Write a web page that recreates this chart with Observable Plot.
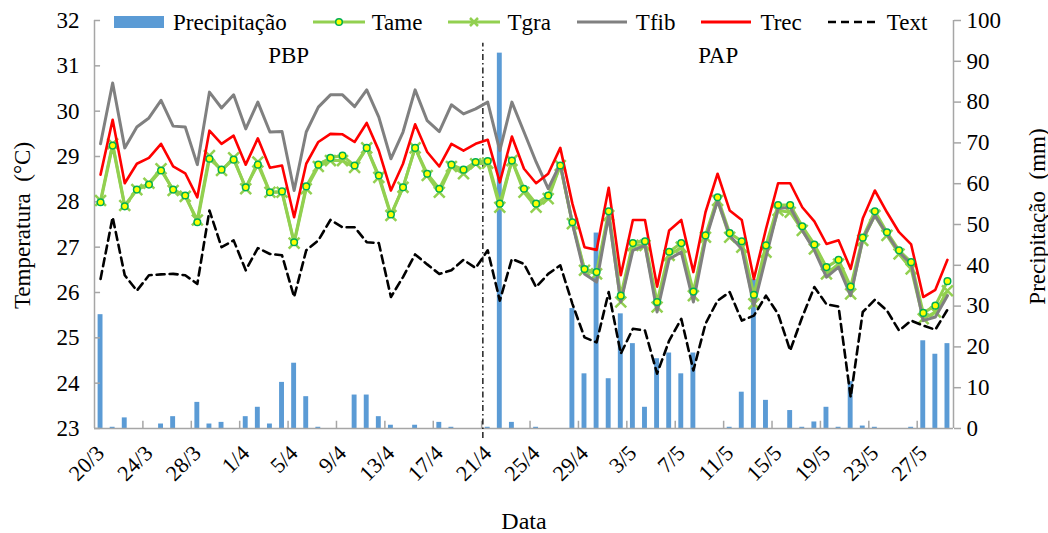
<!DOCTYPE html>
<html><head><meta charset="utf-8">
<script src="https://cdn.jsdelivr.net/npm/d3@7"></script>
<script src="https://cdn.jsdelivr.net/npm/@observablehq/plot@0.6"></script>
<style>
body{margin:0;background:#fff;}
#wrap{position:relative;width:1048px;height:533px;font-family:"Liberation Serif","Times New Roman",serif;}
#wrap svg, #wrap svg text{font-family:"Liberation Serif","Times New Roman",serif !important;}
#legend{position:absolute;left:114px;top:9px;display:flex;align-items:center;font-size:23px;color:#000;line-height:1;}
.item{display:flex;align-items:center;margin-right:26px;}
.item svg{margin-right:7px;}
</style></head><body><div id="wrap"></div>
<script>
// ---- data (daily, 20/3 .. 29/5) ----
const tickLabels = ["20/3","24/3","28/3","1/4","5/4","9/4","13/4","17/4","21/4","25/4","29/4","3/5","7/5","11/5","15/5","19/5","23/5","27/5"];
const precip = [27.9,0.3,2.6,0,0,1.1,2.9,0,6.4,1.1,1.5,0,2.9,5.2,1.1,11.3,16.0,7.8,0.3,0,0,8.2,8.2,2.9,0.8,0,0.8,0,1.5,0.3,0,0,0.3,92,1.5,0,0.3,0,0,29.4,13.4,47.9,12.2,28.1,20.8,5.2,17.1,18.5,13.4,18.5,0,0,0.3,8.9,36.5,6.9,0,4.4,0.3,1.6,5.2,0.3,11.5,0.6,0.3,0,0,0.3,21.5,18.2,20.8];
const tame = [27.99,29.24,27.90,28.27,28.38,28.69,28.27,28.14,27.55,28.95,28.71,28.93,28.32,28.82,28.21,28.23,27.11,28.34,28.82,28.97,29.02,28.80,29.19,28.58,27.72,28.32,29.19,28.62,28.29,28.82,28.71,28.88,28.90,27.96,28.91,28.29,27.96,28.14,28.80,27.55,26.52,26.45,27.79,25.93,27.09,27.13,25.79,26.90,27.09,26.02,27.26,28.10,27.31,27.13,25.95,27.04,27.93,27.93,27.46,27.06,26.56,26.72,26.13,27.21,27.79,27.33,26.93,26.67,25.55,25.71,26.25];
const tgra = [28.03,29.28,27.92,28.27,28.41,28.73,28.25,28.12,27.60,29.02,28.69,28.97,28.29,28.88,28.21,28.21,27.09,28.29,28.78,28.91,28.91,28.76,29.19,28.54,27.70,28.32,29.19,28.58,28.21,28.78,28.62,28.84,28.85,27.88,28.91,28.21,27.88,28.07,28.80,27.52,26.49,26.41,27.70,25.79,27.04,27.04,25.68,26.82,27.00,25.93,27.22,28.03,27.22,27.00,25.75,26.89,27.81,27.77,27.37,26.96,26.41,26.63,25.97,27.15,27.70,27.26,26.85,26.52,25.42,25.57,26.04];
const tfib = [29.28,30.62,29.19,29.65,29.85,30.24,29.67,29.65,28.82,30.42,30.07,30.36,29.61,30.20,29.54,29.55,28.25,29.54,30.09,30.36,30.36,30.10,30.47,29.87,28.95,29.54,30.47,29.79,29.55,30.14,29.94,30.05,30.20,29.13,30.20,29.54,28.88,28.29,28.84,27.52,26.41,26.23,27.70,25.79,26.93,27.04,25.57,26.74,26.89,25.79,27.15,28.03,27.26,26.96,25.71,26.78,27.85,27.88,27.37,26.93,26.34,26.56,25.93,27.18,27.70,27.29,26.89,26.63,25.38,25.46,25.93];
const trec = [28.60,29.81,28.41,28.84,28.97,29.28,28.78,28.63,28.10,29.57,29.28,29.46,28.82,29.40,28.75,28.80,27.66,28.84,29.32,29.50,29.49,29.32,29.74,29.13,28.25,28.84,29.71,29.10,28.78,29.28,29.13,29.28,29.37,28.43,29.44,28.73,28.41,28.62,29.19,27.96,27.00,26.94,28.31,26.38,27.60,27.60,26.13,27.37,27.60,26.45,27.77,28.62,27.81,27.60,26.30,27.40,28.41,28.41,27.88,27.57,27.07,27.15,26.52,27.63,28.25,27.77,27.33,27.06,25.90,26.06,26.72];
const text = [26.30,27.66,26.38,26.04,26.38,26.40,26.41,26.38,26.19,27.81,27.00,27.15,26.49,26.98,26.85,26.82,25.90,26.93,27.15,27.60,27.44,27.44,27.11,27.09,25.90,26.34,26.84,26.62,26.41,26.49,26.72,26.54,26.93,25.82,26.74,26.63,26.12,26.41,26.60,25.75,25.01,24.90,26.01,24.65,25.20,25.16,24.21,24.94,25.42,24.28,25.31,25.82,26.01,25.38,25.49,25.93,25.53,24.72,25.46,26.12,25.74,25.69,23.69,25.57,25.84,25.60,25.16,25.38,25.27,25.18,25.62];
const phaseLabels = ["PBP","PAP"];
const phaseBoundary = 31.6;       // day index of the PBP / PAP split (between 20/4 and 21/4)
const tempTicks = [23,24,25,26,27,28,29,30,31,32];
const precipTicks = [0,10,20,30,40,50,60,70,80,90,100];

// ---- scales mapping ----
const tMin = 23, tMax = 32, pMax = 100;
const pToT = p => tMin + p * (tMax - tMin) / pMax;
const n = tame.length;
const rows = d3.range(n).map(i => ({i, p: precip[i], tame: tame[i], tgra: tgra[i], tfib: tfib[i], trec: trec[i], text: text[i]}));
const labelIdx = tickLabels.map((_, k) => k * 4);
const boundaries = d3.range(3.5, n, 4);

const cGreen = "#92d050", cDot = "#00b050", cGrey = "#808080", cRed = "#ff0000", cBlue = "#5b9bd5", cAxis = "#a6a6a6";
const serif = '"Liberation Serif","Times New Roman",serif';

const chart = Plot.plot({
  width: 1048, height: 533,
  marginLeft: 94, marginRight: 95, marginTop: 20, marginBottom: 105,
  style: {fontFamily: serif, fontSize: "21px", color: "#000", background: "#fff", overflow: "visible"},
  x: {type: "linear", domain: [-0.5, n - 0.5], axis: null},
  y: {domain: [tMin, tMax], axis: null},
  marks: [
    // precipitation bars
    Plot.rect(rows, {x1: d => d.i - 0.5, x2: d => d.i + 0.5, y1: tMin, y2: d => pToT(d.p), fill: cBlue, insetLeft: 3.6, insetRight: 3.6}),
    // axis lines
    Plot.ruleY([tMin], {stroke: cAxis, strokeWidth: 1.5}),
    Plot.ruleX([-0.5, n - 0.5], {y1: tMin, y2: tMax, stroke: cAxis, strokeWidth: 1.5}),
    // left inward ticks
    Plot.ruleY(tempTicks, {y: d => d, x1: -0.5, x2: 0, stroke: cAxis, strokeWidth: 1.5}),
    // bottom inward ticks
    Plot.ruleX(boundaries, {x: d => d, y1: tMin, y2: tMin + 0.16, stroke: cAxis, strokeWidth: 1.5}),
    // left tick labels
    Plot.axisY({ticks: tempTicks, tickSize: 0, tickPadding: 15, tickFormat: d => d, fontSize: 23, label: null}),
    // right axis (precipitation)
    Plot.axisY({anchor: "right", ticks: precipTicks.map(pToT), tickSize: 7, tickPadding: 6, stroke: cAxis, strokeWidth: 1.5,
      tickFormat: t => Math.round((t - tMin) * pMax / (tMax - tMin)), fontSize: 23, label: null}),
    // x tick labels
    Plot.axisX({ticks: labelIdx, tickFormat: i => tickLabels[Math.round(i / 4)], tickRotate: -45, tickSize: 0, tickPadding: 21, fontSize: 22, label: null}),
    // phase split line
    Plot.ruleX([phaseBoundary], {y1: tMin - 0.22, y2: 31.5, stroke: "#000", strokeWidth: 1.3, strokeDasharray: "6,3,1.5,3", clip: false}),
    // lines
    Plot.line(rows, {x: "i", y: "tame", stroke: cGreen, strokeWidth: 3}),
    Plot.line(rows, {x: "i", y: "tgra", stroke: cGreen, strokeWidth: 3}),
    Plot.dot(rows, {x: "i", y: "tgra", symbol: "times", r: 5, stroke: cGreen, strokeWidth: 2.5}),
    Plot.line(rows, {x: "i", y: "tfib", stroke: cGrey, strokeWidth: 3}),
    Plot.line(rows, {x: "i", y: "trec", stroke: cRed, strokeWidth: 2.6}),
    Plot.line(rows, {x: "i", y: "text", stroke: "#000", strokeWidth: 2.6, strokeDasharray: "8,5"}),
    Plot.dot(rows, {x: "i", y: "tame", r: 3.3, fill: "#ffff00", stroke: cDot, strokeWidth: 1.5}),
    // phase labels
    Plot.text(phaseLabels, {x: (d, k) => k === 0 ? (-0.5 + phaseBoundary) / 2 : (phaseBoundary + n - 0.5) / 2, frameAnchor: "top", lineAnchor: "middle", dy: 35, text: d => d, fontSize: 23}),
    // axis titles
    Plot.text(["Temperatura  (°C)"], {ariaLabel: "ytitle-left", frameAnchor: "left", textAnchor: "middle", lineAnchor: "middle", dx: -72, dy: 1, rotate: -90, text: d => d, fontSize: 23}),
    Plot.text(["Precipitação  (mm)"], {ariaLabel: "ytitle-right", frameAnchor: "right", textAnchor: "middle", lineAnchor: "middle", dx: 84, dy: -8, rotate: -90, text: d => d, fontSize: 23}),
    Plot.text(["Data"], {frameAnchor: "bottom", lineAnchor: "middle", dy: 93, text: d => d, fontSize: 24})
  ]
});
const wrap = document.getElementById("wrap");
wrap.appendChild(chart);
// the reference's vertical titles are stretched along their length
chart.querySelectorAll('g[aria-label="ytitle-left"] text').forEach(t => { t.setAttribute("textLength", 236); t.setAttribute("lengthAdjust", "spacingAndGlyphs"); });
chart.querySelectorAll('g[aria-label="ytitle-right"] text').forEach(t => { t.setAttribute("textLength", 240); t.setAttribute("lengthAdjust", "spacingAndGlyphs"); });

// ---- legend ----
const legendItems = [
  {name: "Precipitação", kind: "bar"},
  {name: "Tame", kind: "dot"},
  {name: "Tgra", kind: "times"},
  {name: "Tfib", kind: "grey"},
  {name: "Trec", kind: "red"},
  {name: "Text", kind: "dash"}
];
const leg = document.createElement("div");
leg.id = "legend";
for (const it of legendItems) {
  const el = document.createElement("div");
  el.className = "item";
  let sw = "";
  if (it.kind === "bar") sw = `<rect x="0" y="7" width="50" height="12" fill="${cBlue}"/>`;
  else if (it.kind === "dot") sw = `<line x1="0" x2="52" y1="13" y2="13" stroke="${cGreen}" stroke-width="3"/><circle cx="26" cy="13" r="3.3" fill="#ffff00" stroke="${cDot}" stroke-width="1.5"/>`;
  else if (it.kind === "times") sw = `<line x1="0" x2="52" y1="13" y2="13" stroke="${cGreen}" stroke-width="3"/><path d="M22,9L30,17M30,9L22,17" stroke="${cGreen}" stroke-width="2.5"/>`;
  else if (it.kind === "grey") sw = `<line x1="0" x2="50" y1="13" y2="13" stroke="${cGrey}" stroke-width="3"/>`;
  else if (it.kind === "red") sw = `<line x1="0" x2="50" y1="13" y2="13" stroke="${cRed}" stroke-width="3"/>`;
  else sw = `<line x1="0" x2="52" y1="13" y2="13" stroke="#000" stroke-width="2.6" stroke-dasharray="8,5"/>`;
  el.innerHTML = `<svg width="52" height="26">${sw}</svg><span>${it.name}</span>`;
  leg.appendChild(el);
}
wrap.appendChild(leg);
</script></body></html>
